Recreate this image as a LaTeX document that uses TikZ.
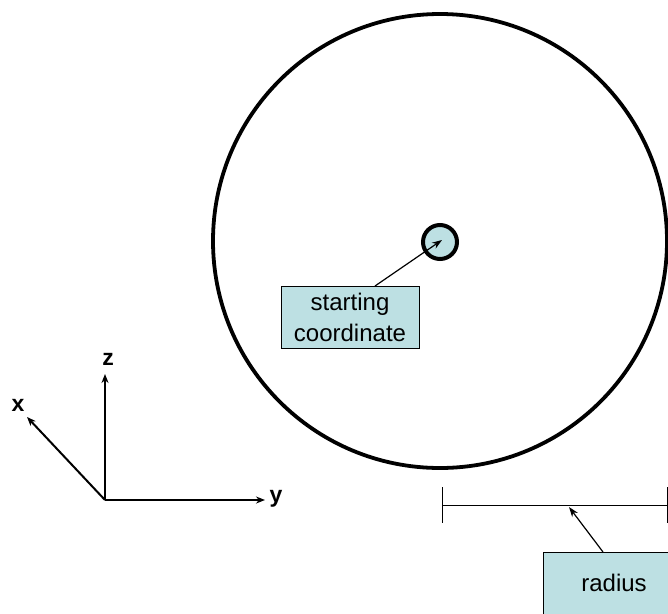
\documentclass[tikz,border=0pt]{standalone}
\usepackage{fontspec}
\setmainfont{Liberation Sans}
\usetikzlibrary{arrows.meta}
\definecolor{boxfill}{RGB}{189,224,227}
\begin{document}
\begin{tikzpicture}[x=1pt,y=-1pt,
  lbl/.style={draw=black,line width=0.8pt,fill=boxfill,font=\fontsize{24}{31}\selectfont,align=center,inner sep=3pt},
  axis/.style={line width=2pt,-{Stealth[length=9pt,width=7pt]}},
  pointer/.style={line width=1.2pt,-{Stealth[length=10pt,width=7pt]}},
  axlbl/.style={font=\fontsize{23}{23}\selectfont\bfseries,inner sep=0pt}]
\useasboundingbox (0,0) rectangle (668,613);
\clip (0,0) rectangle (668,613);
\fill[white] (0,0) rectangle (668,613);
% big circle
\node[circle,draw,line width=3.8pt,minimum size=454pt,inner sep=0pt] (big) at (440,241) {};
% small circle
\node[circle,draw,line width=4pt,fill=boxfill,minimum size=34pt,inner sep=0pt] (start) at (440,242) {};
\coordinate (sc) at (442,240);
% starting coordinate label
\node[lbl,minimum width=138pt,minimum height=62pt] (slab) at (350,317) {starting\\coordinate};
\draw[pointer] (375,286) -- (sc);
% axes
\coordinate (o) at (105,500);
\coordinate (zt) at (105,374);
\coordinate (xt) at (27,417);
\coordinate (yt) at (265,500);
\draw[axis] (o) -- (zt);
\draw[axis] (o) -- (xt);
\draw[axis] (o) -- (yt);
\node[axlbl] (zl) at (108,359) {z};
\node[axlbl] (xl) at (18,405) {x};
\node[axlbl] (yl) at (276,499) {y};
% radius
\coordinate (r1) at (442,505);
\coordinate (r2) at (668,505);
\draw[line width=1pt] (r1) -- (r2);
\draw[line width=1pt] (442,487) -- (442,523);
\draw[line width=1pt] (667.5,487) -- (667.5,523);
\node[lbl,minimum width=140pt,minimum height=70pt,anchor=north west] (rlab) at (543,552) {};
\node[font=\fontsize{24}{31}\selectfont] (rtext) at (614,583) {radius};
\coordinate (rp) at (569,507);
\draw[pointer] (603,552) -- (rp);
\end{tikzpicture}
\end{document}
